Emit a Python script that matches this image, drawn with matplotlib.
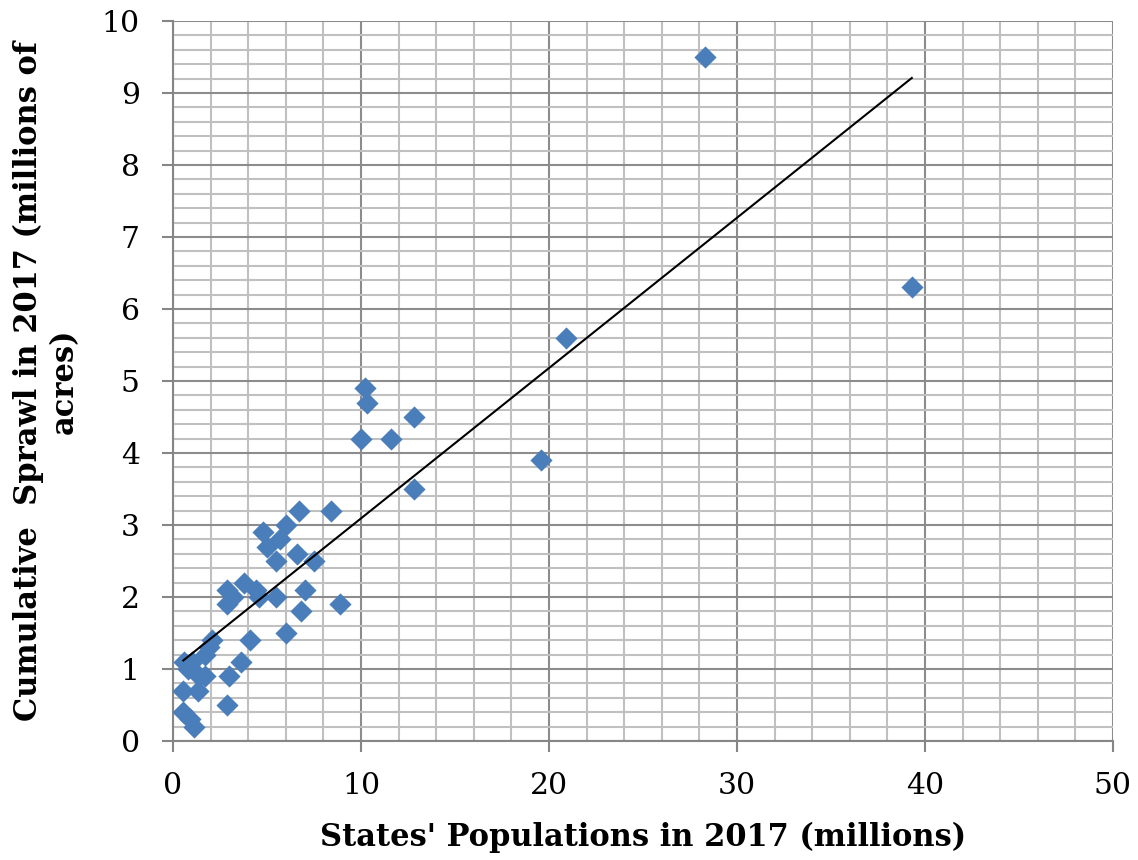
import numpy as np
import matplotlib
matplotlib.use("Agg")
import matplotlib.pyplot as plt
from matplotlib.ticker import MultipleLocator

population = [28.3, 39.3, 20.9, 19.6, 12.8, 12.8, 10.2, 10.3, 10.0, 11.6,
              8.4, 6.7, 6.0, 4.8, 5.7, 5.0, 6.6, 5.5, 7.5, 3.8,
              4.4, 2.9, 7.0, 3.2, 4.6, 5.5, 2.9, 6.8, 8.9, 6.0,
              4.1, 2.1, 1.9, 1.7, 3.6, 0.6, 1.0, 0.8, 1.4, 1.7,
              3.0, 0.55, 1.35, 2.9, 0.55, 0.9, 1.1]
sprawl = [9.5, 6.3, 5.6, 3.9, 4.5, 3.5, 4.9, 4.7, 4.2, 4.2,
          3.2, 3.2, 3.0, 2.9, 2.8, 2.7, 2.6, 2.5, 2.5, 2.2,
          2.1, 2.1, 2.1, 2.0, 2.0, 2.0, 1.9, 1.8, 1.9, 1.5,
          1.4, 1.4, 1.3, 1.2, 1.1, 1.1, 1.1, 1.0, 0.9, 0.9,
          0.9, 0.7, 0.7, 0.5, 0.4, 0.3, 0.2]

x_label = "States' Populations in 2017 (millions)"
y_label = "Cumulative  Sprawl in 2017 (millions of\nacres)"

fig = plt.figure(figsize=(11.38, 8.6), dpi=100)
ax = fig.add_axes([0.152, 0.1384, 0.826, 0.8372])

ax.set_xlim(0, 50)
ax.set_ylim(0, 10)
ax.xaxis.set_major_locator(MultipleLocator(10))
ax.xaxis.set_minor_locator(MultipleLocator(2))
ax.yaxis.set_major_locator(MultipleLocator(1))
ax.yaxis.set_minor_locator(MultipleLocator(0.2))
ax.grid(which='minor', color='#c0c0c0', linewidth=1.5, zorder=0)
ax.grid(which='major', color='#8c8c8c', linewidth=1.5, zorder=0)
ax.set_axisbelow(True)

for s in ['top', 'right']:
    ax.spines[s].set_visible(False)
for s in ['left', 'bottom']:
    ax.spines[s].set_color('#868686')
    ax.spines[s].set_linewidth(1.5)

ax.tick_params(which='major', direction='out', length=8, width=1.5, color='#868686',
               labelsize=21.5)
ax.tick_params(axis='y', which='major', pad=16)
ax.tick_params(axis='x', which='major', pad=14)
ax.tick_params(which='minor', length=0)
for lbl in ax.get_xticklabels() + ax.get_yticklabels():
    lbl.set_fontfamily('DejaVu Serif')

x = np.array(population)
y = np.array(sprawl)
ax.scatter(x, y, marker='D', s=11.3**2, color='#4a7ebb', zorder=3, linewidths=0)

m, b = np.polyfit(x, y, 1)
xs = np.array([x.min(), x.max()])
ax.plot(xs, m * xs + b, color='black', linewidth=1.5, zorder=4)

ax.set_xlabel(x_label, fontsize=22, fontweight='bold', family='DejaVu Serif', labelpad=16)
ax.set_ylabel(y_label, fontsize=22, fontweight='bold', family='DejaVu Serif',
              multialignment='center', linespacing=1.2)
ax.yaxis.set_label_coords(-0.099, 0.5)

fig.savefig('out.png', dpi=100)
